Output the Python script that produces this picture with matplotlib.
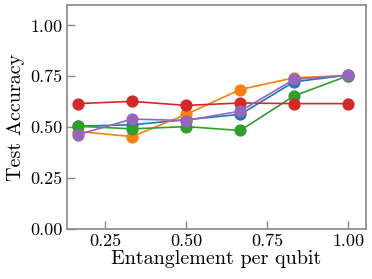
import matplotlib
matplotlib.use('Agg')
from matplotlib import pyplot as plt

ent = [1/6, 2/6, 3/6, 4/6, 5/6, 1.0]
acc_blue = [0.505, 0.512, 0.537, 0.563, 0.723, 0.756]
acc_orange = [0.479, 0.454, 0.563, 0.685, 0.743, 0.753]
acc_green = [0.505, 0.492, 0.503, 0.484, 0.654, 0.753]
acc_red = [0.616, 0.627, 0.607, 0.619, 0.616, 0.616]
acc_purple = [0.464, 0.540, 0.533, 0.579, 0.735, 0.756]

plt.rcParams['font.family'] = 'serif'
plt.rcParams['font.serif'] = ['cmr10']
plt.rcParams['mathtext.fontset'] = 'cm'
plt.rcParams['axes.formatter.use_mathtext'] = True

fig, ax = plt.subplots(figsize=(3.72, 2.79), dpi=100)
for acc in [acc_blue, acc_orange, acc_green, acc_red, acc_purple]:
    ax.plot(ent, acc, marker='o', markersize=7.8, linewidth=1.2)

ax.set_xlim(0.132, 1.055)
ax.set_ylim(0, 1.1)
ax.set_xticks([0.25, 0.5, 0.75, 1.0])
ax.set_yticks([0, 0.25, 0.5, 0.75, 1.0])
ax.set_xticklabels(['0.25', '0.50', '0.75', '1.00'])
ax.set_yticklabels(['0.00', '0.25', '0.50', '0.75', '1.00'])
ax.tick_params(direction='in', length=6, width=1, color='#888888', labelsize=13, pad=3)
for s in ax.spines.values():
    s.set_color('#888888')
    s.set_linewidth(1.2)
ax.set_xlabel('Entanglement per qubit', fontsize=14.5, labelpad=1)
ax.set_ylabel('Test Accuracy', fontsize=14.5, labelpad=4)

fig.subplots_adjust(left=0.18, right=0.984, top=0.982, bottom=0.179)
fig.savefig('out.png')
